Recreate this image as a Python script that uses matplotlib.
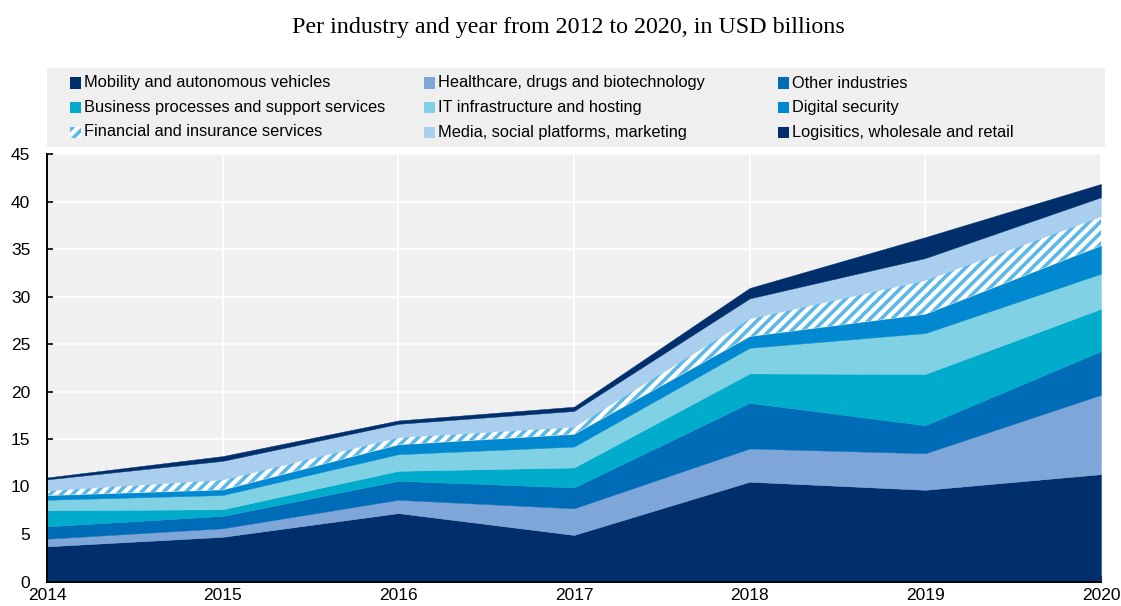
import matplotlib
matplotlib.use("Agg")
import matplotlib.pyplot as plt
from matplotlib.patches import Rectangle
import numpy as np

years = [2014, 2015, 2016, 2017, 2018, 2019, 2020]

labels = [
    "Mobility and autonomous vehicles",
    "Healthcare, drugs and biotechnology",
    "Other industries",
    "Business processes and support services",
    "IT infrastructure and hosting",
    "Digital security",
    "Financial and insurance services",
    "Media, social platforms, marketing",
    "Logisitics, wholesale and retail",
]

# USD billions, stacked bottom to top in the order of `labels`
mobility = [3.7, 4.7, 7.2, 4.9, 10.5, 9.65, 11.3]
healthcare = [0.8, 0.9, 1.4, 2.8, 3.5, 3.85, 8.35]
other = [1.3, 1.3, 2.0, 2.2, 4.8, 2.95, 4.6]
business = [1.7, 0.7, 1.05, 2.1, 3.1, 5.4, 4.45]
it_infra = [1.1, 1.5, 1.75, 2.2, 2.7, 4.3, 3.7]
security = [0.45, 0.55, 1.0, 1.3, 1.2, 2.0, 2.95]
financial = [0.55, 1.1, 0.8, 0.8, 1.9, 3.6, 3.1]
media = [1.15, 1.95, 1.4, 1.65, 2.1, 2.3, 2.0]
logistics = [0.2, 0.5, 0.35, 0.45, 1.1, 2.2, 1.4]

series = [mobility, healthcare, other, business, it_infra,
          security, financial, media, logistics]

colors = ["#002F6C", "#7FA6D9", "#006BB6", "#00ABCB", "#80D1E3",
          "#0088D0", "white", "#AACEED", "#002F6C"]
hatches = [None] * 9
hatches[6] = "///"
stripe = "#5CB8E9"

plt.rcParams["font.family"] = ["Liberation Sans", "DejaVu Sans"]
plt.rcParams["hatch.linewidth"] = 2.6
plt.rcParams["hatch.color"] = stripe

W, H = 1121, 606
fig = plt.figure(figsize=(W / 100, H / 100), dpi=100)


def fx(px):
    return px / W


def fy(py):
    return 1 - py / H


x0, x1, y0, y45 = 47, 1101, 581.5, 154
ax = fig.add_axes([fx(x0), fy(y0), fx(x1) - fx(x0), fy(y45) - fy(y0)])
ax.set_facecolor("#F0F0F0")

base = np.zeros(len(years))
for vals, c, h in zip(series, colors, hatches):
    top = base + np.array(vals)
    if h:
        ax.fill_between(years, base, top, facecolor=c, edgecolor=stripe,
                        hatch=h, linewidth=0, zorder=2)
    else:
        ax.fill_between(years, base, top, facecolor=c, edgecolor=c,
                        linewidth=0.3, zorder=2)
    base = top

ax.set_xlim(2014, 2020)
ax.set_ylim(0, 45)
ax.set_xticks(years)
ax.set_yticks(range(0, 46, 5))
ax.grid(True, color="white", linewidth=1.2, zorder=0)
ax.set_axisbelow(True)

for s in ["top", "right"]:
    ax.spines[s].set_visible(False)
for s in ["left", "bottom"]:
    ax.spines[s].set_linewidth(1.4)
    ax.spines[s].set_zorder(5)

ax.tick_params(axis="both", direction="in", length=4, width=1.2,
               labelsize=12.5, colors="black")
ax.tick_params(axis="y", pad=12)
ax.tick_params(axis="x", pad=5)

fig.text(fx(568), fy(27), "Per industry and year from 2012 to 2020, in USD billions",
         ha="center", va="center", fontsize=17.3,
         family=["Liberation Serif", "DejaVu Serif"])

# legend block
fig.patches.append(Rectangle((fx(47), fy(147)), fx(1105) - fx(47), fy(68) - fy(147),
                             transform=fig.transFigure, facecolor="#EFEFEF",
                             edgecolor="none", zorder=0))
col_x = [70, 424, 778]
row_y = [83, 107.5, 132]
box = 11
for i, (lab, c, h) in enumerate(zip(labels, colors, hatches)):
    cx = col_x[i % 3]
    cy = row_y[i // 3]
    fig.patches.append(Rectangle((fx(cx), fy(cy + box / 2)), box / W, box / H,
                                 transform=fig.transFigure, facecolor=c,
                                 edgecolor=stripe if h else "none",
                                 hatch=h, linewidth=0, zorder=1))
    fig.text(fx(cx + box + 3), fy(cy), lab, ha="left", va="center",
             fontsize=11.8, color="black")

fig.savefig("out.png", dpi=100)
